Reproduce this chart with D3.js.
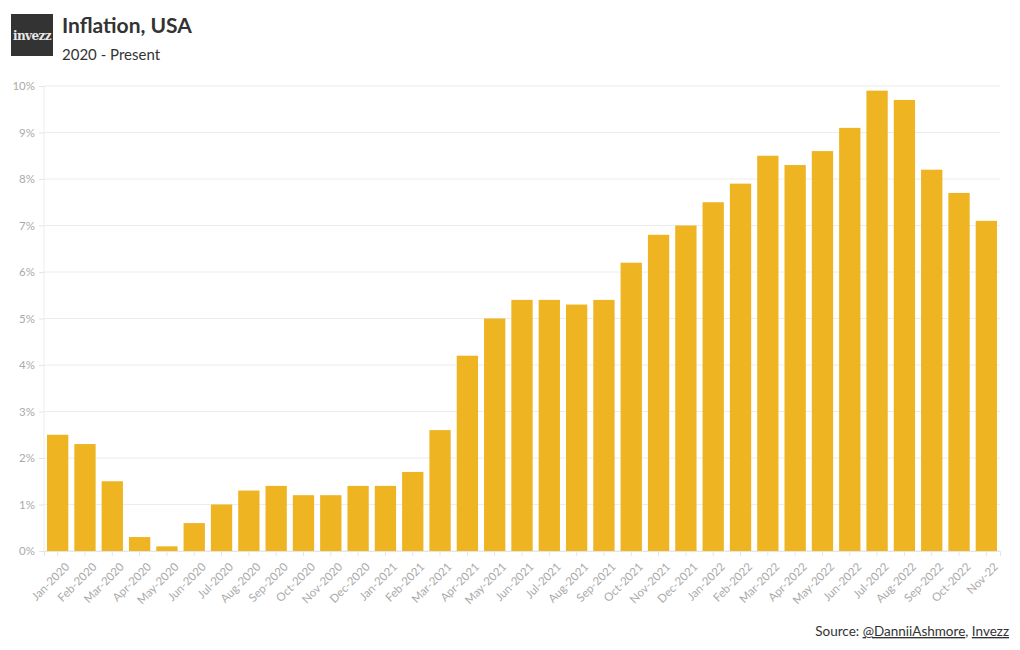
<!DOCTYPE html>
<html>
<head>
<meta charset="utf-8">
<script src="https://cdn.jsdelivr.net/npm/d3@7"></script>
<style>
  html, body { margin: 0; padding: 0; background: #fff; }
  svg { display: block; }
</style>
</head>
<body>
<svg id="chart" width="1020" height="650"></svg>
<script>
const categories = ["Jan-2020","Feb-2020","Mar-2020","Apr-2020","May-2020","Jun-2020","Jul-2020","Aug-2020","Sep-2020","Oct-2020","Nov-2020","Dec-2020",
  "Jan-2021","Feb-2021","Mar-2021","Apr-2021","May-2021","Jun-2021","Jul-2021","Aug-2021","Sep-2021","Oct-2021","Nov-2021","Dec-2021",
  "Jan-2022","Feb-2022","Mar-2022","Apr-2022","May-2022","Jun-2022","Jul-2022","Aug-2022","Sep-2022","Oct-2022","Nov-22"];
const inflation = [2.5,2.3,1.5,0.3,0.1,0.6,1.0,1.3,1.4,1.2,1.2,1.4,
  1.4,1.7,2.6,4.2,5.0,5.4,5.4,5.3,5.4,6.2,6.8,7.0,
  7.5,7.9,8.5,8.3,8.6,9.1,9.9,9.7,8.2,7.7,7.1];
const yTicks = [0,1,2,3,4,5,6,7,8,9,10];

const svg = d3.select("#chart");
const font = "'Source Sans Pro', Lato, 'Noto Sans', sans-serif";
const margin = {left: 44, right: 20, top: 86, bottom: 99};
const W = 1020, H = 650;

const x = d3.scaleBand().domain(categories).range([margin.left, W - margin.right]).paddingInner(0.22).paddingOuter(0.11);
const y = d3.scaleLinear().domain([0, 10]).range([H - margin.bottom, margin.top]);

// gridlines
svg.append("g").selectAll("line").data(yTicks).join("line")
  .attr("x1", margin.left).attr("x2", W - margin.right)
  .attr("y1", d => y(d)).attr("y2", d => y(d))
  .attr("stroke", "#ececec").attr("stroke-width", 1);

// y axis line
svg.append("line").attr("x1", margin.left).attr("x2", margin.left)
  .attr("y1", y(10)).attr("y2", y(0)).attr("stroke", "#ececec");

// y axis
const yAxis = svg.append("g").attr("transform", `translate(${margin.left},0)`)
  .call(d3.axisLeft(y).tickValues(yTicks).tickFormat(d => d + "%").tickSize(5).tickPadding(4));
yAxis.select(".domain").remove();
yAxis.selectAll("line").attr("stroke", "#e5e5e5");
yAxis.selectAll("text").attr("fill", "#aaa").style("font-family", font).style("font-size", "11.5px");

// bars
svg.append("g").selectAll("rect").data(categories).join("rect")
  .attr("x", d => x(d)).attr("width", x.bandwidth())
  .attr("y", (d, i) => y(inflation[i])).attr("height", (d, i) => y(0) - y(inflation[i]))
  .attr("fill", "#eeb422");

// x axis
const xAxis = svg.append("g").attr("transform", `translate(0,${y(0)})`)
  .call(d3.axisBottom(x).tickSize(5).tickPadding(3));
xAxis.select(".domain").attr("stroke", "#e5e5e5");
xAxis.selectAll(".tick line").attr("stroke", "#e5e5e5");
xAxis.selectAll("text").attr("fill", "#aaa").style("font-family", font).style("font-size", "11.5px")
  .attr("text-anchor", "end").attr("dy", "0.35em")
  .attr("transform", "translate(4,8) rotate(-45)");

// logo
svg.append("rect").attr("x", 11).attr("y", 14).attr("width", 42).attr("height", 42).attr("fill", "#333");
const logo = svg.append("text").attr("x", 32).attr("y", 40).attr("text-anchor", "middle")
  .style("font-family", "'DejaVu Serif', 'Liberation Serif', serif").style("font-size", "12px").style("font-weight", "bold")
  .attr("fill", "#e8e8e8").attr("letter-spacing", "-0.6");
logo.text("invezz");

// title
svg.append("text").attr("x", 62).attr("y", 33).text("Inflation, USA")
  .style("font-family", font).style("font-size", "21px").style("font-weight", "bold").attr("fill", "#333");
svg.append("text").attr("x", 62).attr("y", 60).text("2020 - Present")
  .style("font-family", font).style("font-size", "15px").attr("fill", "#333");

// source
const src = svg.append("text").attr("x", 1009).attr("y", 636).attr("text-anchor", "end")
  .style("font-family", font).style("font-size", "13.5px").attr("fill", "#333");
src.append("tspan").text("Source: ");
src.append("tspan").text("@DanniiAshmore").attr("text-decoration", "underline");
src.append("tspan").text(", ");
src.append("tspan").text("Invezz").attr("text-decoration", "underline");
</script>
</body>
</html>
